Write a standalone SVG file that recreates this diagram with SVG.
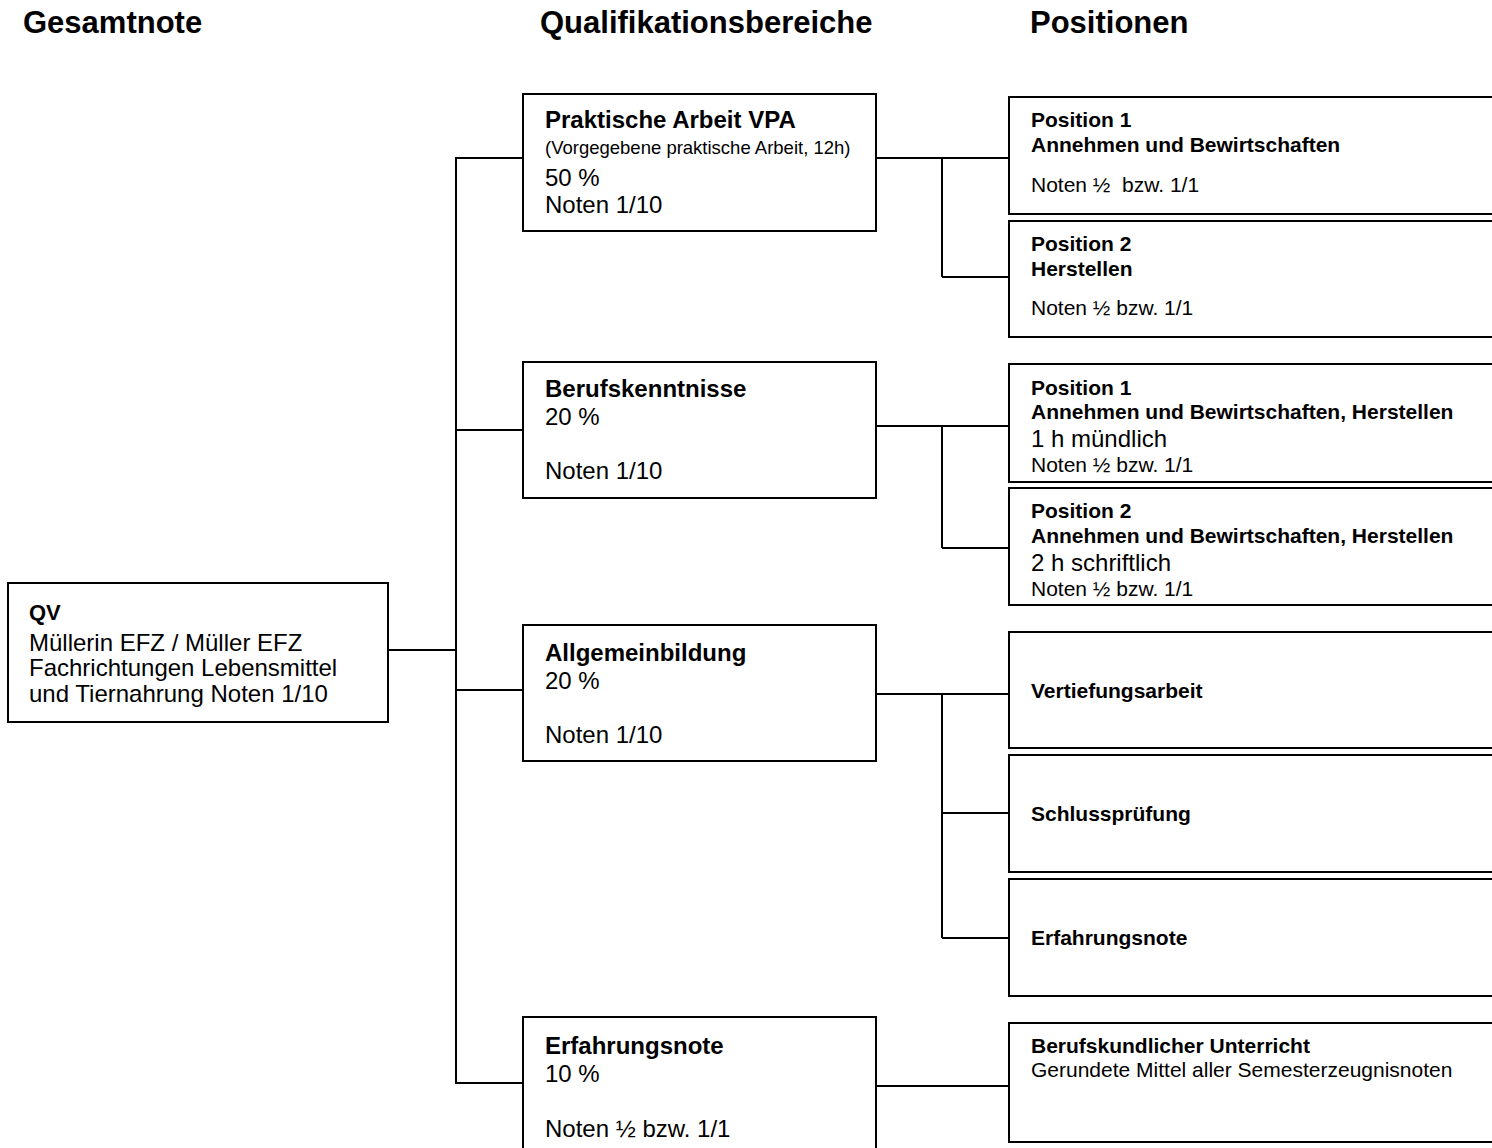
<svg xmlns="http://www.w3.org/2000/svg" width="1492" height="1148" viewBox="0 0 1492 1148">
<style>
text{font-family:"Liberation Sans",Arial,sans-serif;fill:#000}
.h{font-size:31px;font-weight:bold}
.b{font-size:24px;font-weight:bold}
.r{font-size:24px}
.s{font-size:18.5px}
.pb{font-size:21px;font-weight:bold}
.pr{font-size:21px}
rect{fill:#fff;stroke:#000;stroke-width:2}
.c line{stroke:#000;stroke-width:2}
</style>
<rect x="0" y="0" width="1492" height="1148" style="stroke:none"/>
<g id="headers">
<text class="h" x="23" y="33">Gesamtnote</text>
<text class="h" x="540" y="33">Qualifikationsbereiche</text>
<text class="h" x="1030" y="33">Positionen</text>
</g>
<g class="c" id="connectors">
<line x1="388" y1="650" x2="456" y2="650"/>
<line x1="456" y1="157" x2="456" y2="1084"/>
<line x1="456" y1="158" x2="523" y2="158"/>
<line x1="456" y1="430" x2="523" y2="430"/>
<line x1="456" y1="690" x2="523" y2="690"/>
<line x1="456" y1="1083" x2="523" y2="1083"/>
<line x1="876" y1="158" x2="1009" y2="158"/>
<line x1="942" y1="158" x2="942" y2="277"/>
<line x1="942" y1="277" x2="1009" y2="277"/>
<line x1="876" y1="426" x2="1009" y2="426"/>
<line x1="942" y1="426" x2="942" y2="548"/>
<line x1="942" y1="548" x2="1009" y2="548"/>
<line x1="876" y1="694" x2="1009" y2="694"/>
<line x1="942" y1="694" x2="942" y2="938"/>
<line x1="942" y1="813" x2="1009" y2="813"/>
<line x1="942" y1="938" x2="1009" y2="938"/>
<line x1="876" y1="1086" x2="1009" y2="1086"/>
</g>
<g id="qv">
<rect x="8" y="583" width="380" height="139"/>
<text class="b" x="29" y="620" style="font-size:22px">QV</text>
<text class="r" x="29" y="651">Müllerin EFZ / Müller EFZ</text>
<text class="r" x="29" y="676">Fachrichtungen Lebensmittel</text>
<text class="r" x="29" y="702">und Tiernahrung Noten 1/10</text>
</g>
<g id="praktische">
<rect x="523" y="94" width="353" height="137"/>
<text class="b" x="545" y="128">Praktische Arbeit VPA</text>
<text class="s" x="545" y="154">(Vorgegebene praktische Arbeit, 12h)</text>
<text class="r" x="545" y="186">50 %</text>
<text class="r" x="545" y="213">Noten 1/10</text>
</g>
<g id="berufskenntnisse">
<rect x="523" y="362" width="353" height="136"/>
<text class="b" x="545" y="397">Berufskenntnisse</text>
<text class="r" x="545" y="425">20 %</text>
<text class="r" x="545" y="479">Noten 1/10</text>
</g>
<g id="allgemeinbildung">
<rect x="523" y="625" width="353" height="136"/>
<text class="b" x="545" y="661">Allgemeinbildung</text>
<text class="r" x="545" y="689">20 %</text>
<text class="r" x="545" y="743">Noten 1/10</text>
</g>
<g id="erfahrungsnote">
<rect x="523" y="1017" width="353" height="150"/>
<text class="b" x="545" y="1054">Erfahrungsnote</text>
<text class="r" x="545" y="1082">10 %</text>
<text class="r" x="545" y="1137">Noten ½ bzw. 1/1</text>
</g>
<g id="vpa-pos1">
<rect x="1009" y="97" width="500" height="117"/>
<text class="pb" x="1031" y="127">Position 1</text>
<text class="pb" x="1031" y="152">Annehmen und Bewirtschaften</text>
<text class="pr" x="1031" y="192" xml:space="preserve">Noten ½  bzw. 1/1</text>
</g>
<g id="vpa-pos2">
<rect x="1009" y="221" width="500" height="116"/>
<text class="pb" x="1031" y="251">Position 2</text>
<text class="pb" x="1031" y="276">Herstellen</text>
<text class="pr" x="1031" y="315">Noten ½ bzw. 1/1</text>
</g>
<g id="bk-pos1">
<rect x="1009" y="364" width="500" height="118"/>
<text class="pb" x="1031" y="395">Position 1</text>
<text class="pb" x="1031" y="419">Annehmen und Bewirtschaften, Herstellen</text>
<text class="r" x="1031" y="447">1 h mündlich</text>
<text class="pr" x="1031" y="472">Noten ½ bzw. 1/1</text>
</g>
<g id="bk-pos2">
<rect x="1009" y="488" width="500" height="117"/>
<text class="pb" x="1031" y="518">Position 2</text>
<text class="pb" x="1031" y="543">Annehmen und Bewirtschaften, Herstellen</text>
<text class="r" x="1031" y="571">2 h schriftlich</text>
<text class="pr" x="1031" y="596">Noten ½ bzw. 1/1</text>
</g>
<g id="vertiefungsarbeit">
<rect x="1009" y="632" width="500" height="116"/>
<text class="pb" x="1031" y="698">Vertiefungsarbeit</text>
</g>
<g id="schlusspruefung">
<rect x="1009" y="755" width="500" height="117"/>
<text class="pb" x="1031" y="821">Schlussprüfung</text>
</g>
<g id="erfahrungsnote-ab">
<rect x="1009" y="879" width="500" height="117"/>
<text class="pb" x="1031" y="945">Erfahrungsnote</text>
</g>
<g id="berufskundlicher">
<rect x="1009" y="1023" width="500" height="119"/>
<text class="pb" x="1031" y="1053">Berufskundlicher Unterricht</text>
<text class="pr" x="1031" y="1077">Gerundete Mittel aller Semesterzeugnisnoten</text>
</g>
</svg>
